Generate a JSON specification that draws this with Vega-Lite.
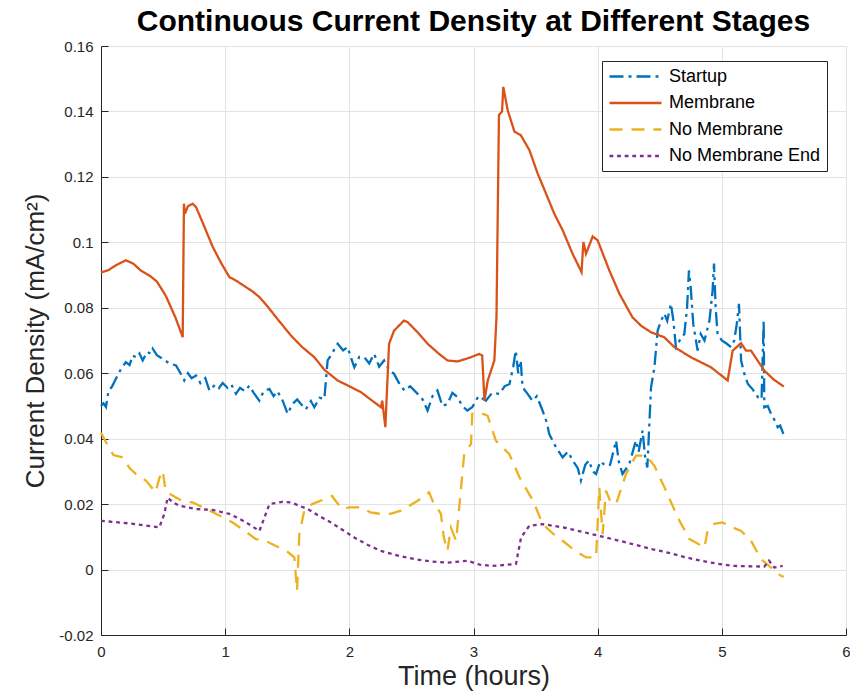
{
  "$schema": "https://vega.github.io/schema/vega-lite/v6.json",
  "width": 745,
  "height": 589,
  "autosize": {"type": "none"},
  "padding": {"left": 101, "top": 46, "right": 4, "bottom": 65},
  "background": "white",
  "config": {"font": "Liberation Sans", "view": {"stroke": null}},
  "title": {"text": "Continuous Current Density at Different Stages", "fontSize": 30, "fontWeight": "bold", "font": "Liberation Sans", "color": "black", "anchor": "middle", "offset": 2},
  "datasets": {
    "startup": [
      {"t":0,"v":0.05},{"t":0.02,"v":0.0508},{"t":0.04,"v":0.0497},{"t":0.06,"v":0.0545},{"t":0.09,"v":0.056},{"t":0.12,"v":0.0583},{"t":0.16,"v":0.0612},{"t":0.2,"v":0.0634},{"t":0.23,"v":0.0625},{"t":0.255,"v":0.0654},{"t":0.29,"v":0.0648},{"t":0.31,"v":0.066},{"t":0.336,"v":0.0639},{"t":0.37,"v":0.0665},{"t":0.4,"v":0.066},{"t":0.416,"v":0.0675},{"t":0.45,"v":0.0655},{"t":0.497,"v":0.0644},{"t":0.55,"v":0.063},{"t":0.604,"v":0.0624},{"t":0.64,"v":0.06},{"t":0.67,"v":0.0578},{"t":0.7,"v":0.06},{"t":0.73,"v":0.0585},{"t":0.765,"v":0.0593},{"t":0.8,"v":0.057},{"t":0.84,"v":0.0585},{"t":0.873,"v":0.0547},{"t":0.92,"v":0.0565},{"t":0.95,"v":0.0555},{"t":0.98,"v":0.057},{"t":1.02,"v":0.0555},{"t":1.05,"v":0.0565},{"t":1.087,"v":0.0537},{"t":1.12,"v":0.0555},{"t":1.16,"v":0.0545},{"t":1.195,"v":0.0562},{"t":1.23,"v":0.054},{"t":1.275,"v":0.0516},{"t":1.31,"v":0.0545},{"t":1.356,"v":0.0552},{"t":1.39,"v":0.053},{"t":1.42,"v":0.0545},{"t":1.463,"v":0.0516},{"t":1.503,"v":0.0476},{"t":1.54,"v":0.0505},{"t":1.58,"v":0.052},{"t":1.61,"v":0.0506},{"t":1.65,"v":0.049},{"t":1.69,"v":0.0515},{"t":1.718,"v":0.0496},{"t":1.76,"v":0.0525},{"t":1.799,"v":0.0522},{"t":1.825,"v":0.0639},{"t":1.86,"v":0.066},{"t":1.906,"v":0.069},{"t":1.95,"v":0.067},{"t":1.986,"v":0.068},{"t":2.02,"v":0.064},{"t":2.04,"v":0.0618},{"t":2.08,"v":0.065},{"t":2.12,"v":0.0649},{"t":2.16,"v":0.063},{"t":2.2,"v":0.0659},{"t":2.24,"v":0.062},{"t":2.28,"v":0.0639},{"t":2.32,"v":0.061},{"t":2.36,"v":0.0598},{"t":2.4,"v":0.057},{"t":2.443,"v":0.0547},{"t":2.49,"v":0.056},{"t":2.55,"v":0.0537},{"t":2.59,"v":0.052},{"t":2.63,"v":0.0486},{"t":2.67,"v":0.053},{"t":2.71,"v":0.0547},{"t":2.75,"v":0.05},{"t":2.79,"v":0.0506},{"t":2.83,"v":0.054},{"t":2.87,"v":0.0527},{"t":2.91,"v":0.05},{"t":2.95,"v":0.0486},{"t":2.99,"v":0.0496},{"t":3.04,"v":0.053},{"t":3.1,"v":0.0516},{"t":3.15,"v":0.054},{"t":3.21,"v":0.0537},{"t":3.25,"v":0.056},{"t":3.29,"v":0.0567},{"t":3.32,"v":0.062},{"t":3.34,"v":0.0669},{"t":3.36,"v":0.06},{"t":3.38,"v":0.0639},{"t":3.395,"v":0.0557},{"t":3.43,"v":0.054},{"t":3.475,"v":0.0516},{"t":3.51,"v":0.053},{"t":3.556,"v":0.0486},{"t":3.59,"v":0.045},{"t":3.61,"v":0.0414},{"t":3.665,"v":0.0373},{"t":3.718,"v":0.0343},{"t":3.76,"v":0.036},{"t":3.8,"v":0.0333},{"t":3.84,"v":0.031},{"t":3.865,"v":0.0272},{"t":3.9,"v":0.032},{"t":3.93,"v":0.0333},{"t":3.96,"v":0.03},{"t":3.987,"v":0.0292},{"t":4.02,"v":0.033},{"t":4.067,"v":0.0317},{"t":4.1,"v":0.032},{"t":4.148,"v":0.0394},{"t":4.17,"v":0.033},{"t":4.2,"v":0.0292},{"t":4.255,"v":0.0323},{"t":4.308,"v":0.0394},{"t":4.33,"v":0.036},{"t":4.362,"v":0.0425},{"t":4.38,"v":0.035},{"t":4.4,"v":0.0312},{"t":4.43,"v":0.0557},{"t":4.457,"v":0.0618},{"t":4.483,"v":0.073},{"t":4.51,"v":0.076},{"t":4.537,"v":0.0782},{"t":4.56,"v":0.076},{"t":4.59,"v":0.0812},{"t":4.61,"v":0.076},{"t":4.63,"v":0.068},{"t":4.66,"v":0.07},{"t":4.698,"v":0.072},{"t":4.72,"v":0.08},{"t":4.735,"v":0.0914},{"t":4.75,"v":0.086},{"t":4.77,"v":0.075},{"t":4.805,"v":0.0669},{"t":4.83,"v":0.072},{"t":4.86,"v":0.07},{"t":4.9,"v":0.076},{"t":4.925,"v":0.085},{"t":4.937,"v":0.0935},{"t":4.95,"v":0.08},{"t":4.966,"v":0.072},{"t":5.0,"v":0.07},{"t":5.04,"v":0.069},{"t":5.074,"v":0.068},{"t":5.1,"v":0.07},{"t":5.12,"v":0.075},{"t":5.138,"v":0.0812},{"t":5.155,"v":0.0639},{"t":5.18,"v":0.06},{"t":5.21,"v":0.0567},{"t":5.25,"v":0.055},{"t":5.29,"v":0.0527},{"t":5.32,"v":0.052},{"t":5.337,"v":0.0761},{"t":5.342,"v":0.0496},{"t":5.37,"v":0.05},{"t":5.396,"v":0.0476},{"t":5.42,"v":0.046},{"t":5.45,"v":0.0435},{"t":5.47,"v":0.044},{"t":5.5,"v":0.041}
    ],
    "membrane": [
      {"t":0,"v":0.0908},{"t":0.06,"v":0.0915},{"t":0.12,"v":0.093},{"t":0.2,"v":0.0945},{"t":0.26,"v":0.0935},{"t":0.32,"v":0.0914},{"t":0.4,"v":0.0896},{"t":0.45,"v":0.088},{"t":0.52,"v":0.0838},{"t":0.6,"v":0.077},{"t":0.658,"v":0.071},{"t":0.668,"v":0.1118},{"t":0.676,"v":0.1088},{"t":0.7,"v":0.111},{"t":0.738,"v":0.1118},{"t":0.765,"v":0.1108},{"t":0.83,"v":0.105},{"t":0.9,"v":0.0986},{"t":0.97,"v":0.0935},{"t":1.034,"v":0.0894},{"t":1.1,"v":0.088},{"t":1.168,"v":0.0863},{"t":1.22,"v":0.085},{"t":1.275,"v":0.0833},{"t":1.35,"v":0.08},{"t":1.41,"v":0.0771},{"t":1.53,"v":0.0715},{"t":1.62,"v":0.068},{"t":1.718,"v":0.0649},{"t":1.8,"v":0.061},{"t":1.905,"v":0.0578},{"t":2.0,"v":0.056},{"t":2.094,"v":0.0542},{"t":2.17,"v":0.052},{"t":2.255,"v":0.0496},{"t":2.265,"v":0.0516},{"t":2.29,"v":0.0435},{"t":2.32,"v":0.069},{"t":2.36,"v":0.073},{"t":2.44,"v":0.0761},{"t":2.47,"v":0.0756},{"t":2.55,"v":0.0725},{"t":2.63,"v":0.069},{"t":2.72,"v":0.066},{"t":2.79,"v":0.0639},{"t":2.87,"v":0.0636},{"t":2.94,"v":0.0644},{"t":2.98,"v":0.0649},{"t":3.047,"v":0.0659},{"t":3.07,"v":0.0654},{"t":3.088,"v":0.0516},{"t":3.115,"v":0.0578},{"t":3.168,"v":0.0639},{"t":3.185,"v":0.0771},{"t":3.205,"v":0.1389},{"t":3.23,"v":0.14},{"t":3.24,"v":0.1475},{"t":3.275,"v":0.1404},{"t":3.33,"v":0.1338},{"t":3.38,"v":0.1328},{"t":3.45,"v":0.1282},{"t":3.517,"v":0.121},{"t":3.584,"v":0.1149},{"t":3.65,"v":0.1088},{"t":3.718,"v":0.1037},{"t":3.798,"v":0.0965},{"t":3.87,"v":0.0909},{"t":3.885,"v":0.1001},{"t":3.906,"v":0.0965},{"t":3.96,"v":0.1018},{"t":4.0,"v":0.1006},{"t":4.094,"v":0.0914},{"t":4.175,"v":0.0843},{"t":4.28,"v":0.0771},{"t":4.35,"v":0.0745},{"t":4.43,"v":0.0725},{"t":4.536,"v":0.071},{"t":4.617,"v":0.068},{"t":4.75,"v":0.0649},{"t":4.913,"v":0.0618},{"t":5.047,"v":0.0578},{"t":5.087,"v":0.0669},{"t":5.155,"v":0.0692},{"t":5.195,"v":0.0669},{"t":5.235,"v":0.0669},{"t":5.342,"v":0.0608},{"t":5.42,"v":0.058},{"t":5.5,"v":0.0559}
    ],
    "nomembrane": [
      {"t":0,"v":0.0418},{"t":0.054,"v":0.0379},{"t":0.1,"v":0.035},{"t":0.175,"v":0.0343},{"t":0.23,"v":0.031},{"t":0.282,"v":0.0292},{"t":0.362,"v":0.0272},{"t":0.44,"v":0.0236},{"t":0.47,"v":0.028},{"t":0.497,"v":0.0302},{"t":0.52,"v":0.024},{"t":0.577,"v":0.0226},{"t":0.65,"v":0.021},{"t":0.738,"v":0.0205},{"t":0.82,"v":0.019},{"t":0.9,"v":0.0175},{"t":0.98,"v":0.016},{"t":1.06,"v":0.0144},{"t":1.15,"v":0.012},{"t":1.248,"v":0.0093},{"t":1.34,"v":0.0085},{"t":1.436,"v":0.0067},{"t":1.5,"v":0.0055},{"t":1.557,"v":0.0037},{"t":1.579,"v":-0.0065},{"t":1.597,"v":0.0108},{"t":1.637,"v":0.018},{"t":1.7,"v":0.02},{"t":1.8,"v":0.0215},{"t":1.86,"v":0.0225},{"t":1.92,"v":0.0195},{"t":1.946,"v":0.0185},{"t":2.0,"v":0.019},{"t":2.094,"v":0.019},{"t":2.17,"v":0.0175},{"t":2.255,"v":0.017},{"t":2.33,"v":0.017},{"t":2.416,"v":0.018},{"t":2.55,"v":0.021},{"t":2.643,"v":0.0236},{"t":2.67,"v":0.021},{"t":2.738,"v":0.017},{"t":2.76,"v":0.01},{"t":2.79,"v":0.0057},{"t":2.818,"v":0.0128},{"t":2.86,"v":0.0088},{"t":2.9,"v":0.0251},{"t":2.925,"v":0.0353},{"t":2.98,"v":0.0384},{"t":2.99,"v":0.0476},{"t":3.046,"v":0.048},{"t":3.114,"v":0.047},{"t":3.18,"v":0.0394},{"t":3.288,"v":0.0353},{"t":3.37,"v":0.0282},{"t":3.48,"v":0.021},{"t":3.557,"v":0.0139},{"t":3.64,"v":0.011},{"t":3.718,"v":0.0088},{"t":3.81,"v":0.006},{"t":3.906,"v":0.0037},{"t":3.987,"v":0.0037},{"t":4.013,"v":0.0251},{"t":4.04,"v":0.0108},{"t":4.067,"v":0.0241},{"t":4.1,"v":0.021},{"t":4.148,"v":0.02},{"t":4.228,"v":0.0292},{"t":4.308,"v":0.0348},{"t":4.389,"v":0.0348},{"t":4.457,"v":0.0317},{"t":4.55,"v":0.0241},{"t":4.645,"v":0.0159},{"t":4.739,"v":0.0093},{"t":4.79,"v":0.0083},{"t":4.86,"v":0.0067},{"t":4.885,"v":0.0118},{"t":4.94,"v":0.014},{"t":5.006,"v":0.0144},{"t":5.08,"v":0.013},{"t":5.155,"v":0.0118},{"t":5.235,"v":0.0088},{"t":5.315,"v":0.0032},{"t":5.396,"v":0.0006},{"t":5.476,"v":-0.0019},{"t":5.5,"v":-0.0022}
    ],
    "nomembraneend": [
      {"t":0,"v":0.0149},{"t":0.228,"v":0.0141},{"t":0.47,"v":0.0129},{"t":0.51,"v":0.017},{"t":0.537,"v":0.022},{"t":0.58,"v":0.0205},{"t":0.63,"v":0.0195},{"t":0.765,"v":0.0185},{"t":0.9,"v":0.0182},{"t":1.034,"v":0.017},{"t":1.1,"v":0.0158},{"t":1.168,"v":0.0144},{"t":1.276,"v":0.0118},{"t":1.316,"v":0.0159},{"t":1.357,"v":0.02},{"t":1.463,"v":0.0207},{"t":1.53,"v":0.0205},{"t":1.664,"v":0.0185},{"t":1.75,"v":0.0165},{"t":1.852,"v":0.0144},{"t":1.95,"v":0.012},{"t":2.04,"v":0.0098},{"t":2.15,"v":0.0075},{"t":2.255,"v":0.0057},{"t":2.4,"v":0.0042},{"t":2.523,"v":0.0032},{"t":2.65,"v":0.0025},{"t":2.79,"v":0.0021},{"t":2.95,"v":0.0027},{"t":3.05,"v":0.0015},{"t":3.154,"v":0.0011},{"t":3.342,"v":0.0017},{"t":3.383,"v":0.0098},{"t":3.45,"v":0.0134},{"t":3.557,"v":0.0139},{"t":3.65,"v":0.0133},{"t":3.745,"v":0.0127},{"t":3.88,"v":0.0115},{"t":4.013,"v":0.0103},{"t":4.12,"v":0.0093},{"t":4.228,"v":0.0083},{"t":4.33,"v":0.0073},{"t":4.443,"v":0.0062},{"t":4.563,"v":0.0052},{"t":4.7,"v":0.0038},{"t":4.832,"v":0.0027},{"t":4.96,"v":0.0018},{"t":5.1,"v":0.0011},{"t":5.342,"v":0.0009},{"t":5.38,"v":0.0027},{"t":5.423,"v":0.0006},{"t":5.49,"v":0.0011}
    ]
  },
  "encoding": {
    "x": {"field": "t", "type": "quantitative", "scale": {"domain": [0, 6], "nice": false, "zero": false},
      "axis": {"title": "Time (hours)", "values": [0,1,2,3,4,5,6], "titleFontSize": 27, "titleFontWeight": "normal", "titleColor": "#262626", "titlePadding": 4,
        "labelFontSize": 15, "labelColor": "#262626", "labelPadding": 16, "labelFlush": false,
        "grid": true, "gridColor": "#e3e3e3", "domainColor": "#262626", "tickColor": "#262626", "tickSize": -7}},
    "y": {"field": "v", "type": "quantitative", "scale": {"domain": [-0.02, 0.16], "nice": false, "zero": false},
      "axis": {"title": "Current Density (mA/cm²)", "values": [-0.02,0,0.02,0.04,0.06,0.08,0.1,0.12,0.14,0.16], "labelExpr": "'' + datum.value",
        "titleFontSize": 26, "titleFontWeight": "normal", "titleColor": "#262626", "titlePadding": 10,
        "labelFontSize": 15, "labelColor": "#262626", "labelPadding": 15, "labelFlush": false,
        "grid": true, "gridColor": "#e3e3e3", "domainColor": "#262626", "tickColor": "#262626", "tickSize": -7}},
    "color": {"field": "series", "type": "nominal",
      "scale": {"domain": ["Startup", "Membrane", "No Membrane", "No Membrane End"], "range": ["#0072BD", "#D95319", "#EDB120", "#7E2F8E"]},
      "legend": {"title": null, "orient": "none", "legendX": 501, "legendY": 15, "fillColor": "white", "strokeColor": "#262626", "padding": 6,
        "labelFontSize": 18, "labelColor": "black", "symbolType": "M-1,0L5.5,0", "symbolSize": 256, "labelOffset": 42, "rowPadding": 7.5, "labelLimit": 300}},
    "strokeDash": {"field": "series", "type": "nominal",
      "scale": {"domain": ["Startup", "Membrane", "No Membrane", "No Membrane End"], "range": [[14, 5, 3, 5], [1, 0], [13, 9], [3.8, 3.8]]}},
    "strokeWidth": {"field": "series", "type": "ordinal",
      "scale": {"domain": ["Startup", "Membrane", "No Membrane", "No Membrane End"], "range": [2.3, 2.3, 3.2, 3.8]}}
  },
  "layer": [
    {"data": {"name": "startup"}, "transform": [{"calculate": "'Startup'", "as": "series"}], "mark": {"type": "line", "strokeCap": "butt"}},
    {"data": {"name": "membrane"}, "transform": [{"calculate": "'Membrane'", "as": "series"}], "mark": {"type": "line", "strokeCap": "butt"}},
    {"data": {"name": "nomembrane"}, "transform": [{"calculate": "'No Membrane'", "as": "series"}], "mark": {"type": "line", "strokeCap": "butt"}},
    {"data": {"name": "nomembraneend"}, "transform": [{"calculate": "'No Membrane End'", "as": "series"}], "mark": {"type": "line", "strokeCap": "butt"}}
  ]
}
